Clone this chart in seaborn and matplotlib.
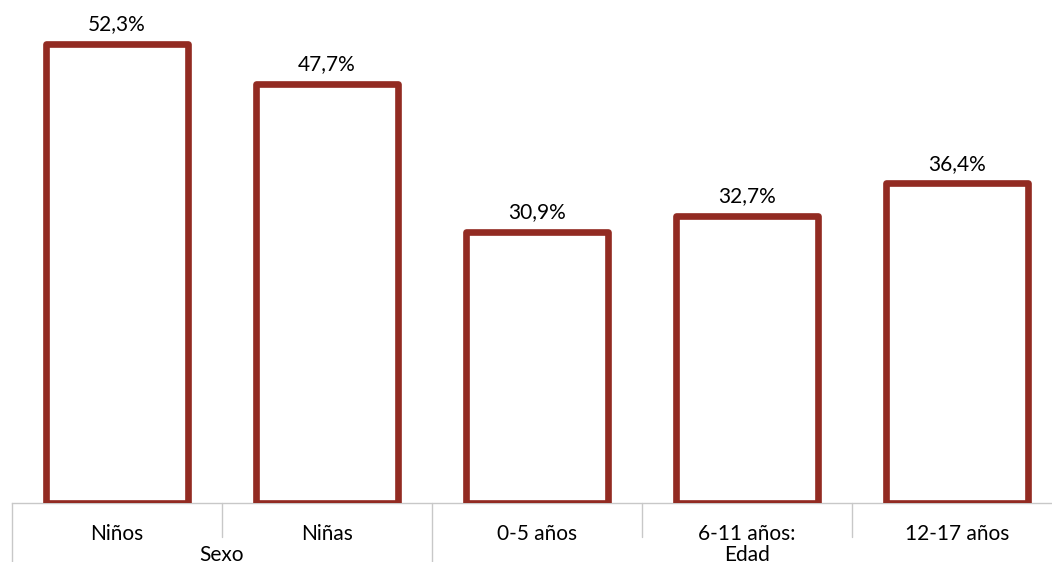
import pandas as pd
import seaborn as sns
import matplotlib.pyplot as plt
import matplotlib.transforms as mtransforms

# chart data
categories = ["Niños", "Niñas", "0-5 años", "6-11 años:", "12-17 años"]
values = [52.3, 47.7, 30.9, 32.7, 36.4]
groups = ["Sexo", "Edad"]
group_centers = [0.5, 3.0]
group_bounds = [-0.5, 1.5]

df = pd.DataFrame({"cat": categories, "val": values})

sns.set_style("white")
plt.rcParams["font.family"] = ["Lato", "DejaVu Sans"]

W, H = 1052, 562
fig = plt.figure(figsize=(W / 100, H / 100), dpi=100)
ax = fig.add_axes([12 / W, 59 / H, 1050 / W, 503 / H])

red = "#922B22"
sns.barplot(data=df, x="cat", y="val", color="white", edgecolor=red,
            linewidth=4.8, width=0.68, saturation=1, ax=ax, zorder=3)
for p in ax.patches:
    p.set_joinstyle("round")

ax.set_xlim(-0.5, 4.5)
ax.set_ylim(0, 57.3)
ax.set_xlabel("")
ax.set_ylabel("")
ax.set_yticks([])
for s in ["top", "right", "left"]:
    ax.spines[s].set_visible(False)
ax.spines["bottom"].set_color("#C8C8C8")
ax.spines["bottom"].set_linewidth(1)
ax.spines["bottom"].set_zorder(1)

fs = 15
ax.set_xticks(range(len(categories)))
ax.set_xticklabels(categories, fontsize=fs, color="black")
ax.tick_params(axis="x", length=0, pad=15)

# value labels
for i, v in enumerate(values):
    ax.annotate(f"{v:.1f}%".replace(".", ","), (i, v), xytext=(0, 7),
                textcoords="offset points", ha="center", va="bottom",
                fontsize=fs, color="black")

# category separators
trans = mtransforms.blended_transform_factory(ax.transData, ax.transAxes)
for k in range(len(categories)):
    x = k - 0.5
    long = x in group_bounds
    ax.plot([x, x], [0, -0.12 if long else -0.068], color="#C8C8C8",
            lw=1, transform=trans, clip_on=False)

# group labels
for g, c in zip(groups, group_centers):
    ax.text(c, -0.103, g, transform=trans, ha="center", va="center",
            fontsize=fs, color="black")

fig.savefig("out.png", dpi=100)
